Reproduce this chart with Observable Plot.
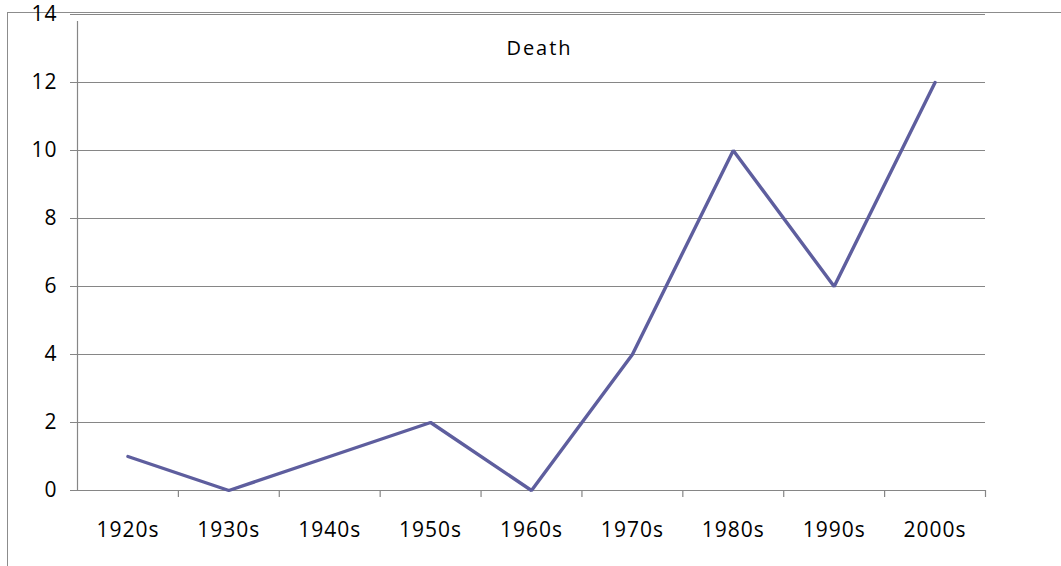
<!DOCTYPE html>
<html>
<head>
<meta charset="utf-8">
<script src="https://cdn.jsdelivr.net/npm/d3@7"></script>
<script src="https://cdn.jsdelivr.net/npm/@observablehq/plot@0.6"></script>
<style>
  html, body { margin: 0; padding: 0; background: #fff; }
  #wrap { position: relative; width: 1061px; height: 566px; overflow: hidden; }
  #border { position: absolute; left: 7px; top: 12px; right: 0; bottom: -2px;
            border-left: 1.5px solid #8c8c8c; border-top: 1.5px solid #8c8c8c; }
  #chart { position: absolute; left: 0; top: 0; }
  #chart svg text { letter-spacing: 1px; }
  #chart svg g.title text { letter-spacing: 2px; }
</style>
</head>
<body>
<div id="wrap"><div id="border"></div><div id="chart"></div></div>
<script>
const decades = ["1920s", "1930s", "1940s", "1950s", "1960s", "1970s", "1980s", "1990s", "2000s"];
const deaths = [1, 0, 1, 2, 0, 4, 10, 6, 12];
const yTicks = [0, 2, 4, 6, 8, 10, 12, 14];
const title = "Death";

const data = decades.map((d, i) => ({decade: d, deaths: deaths[i]}));

const W = 1061, H = 566;
const mL = 77, mR = 76, mT = 14, mB = 76;
const step = (W - mL - mR) / decades.length;
const grid = "#868686";
const font = "'Open Sans', sans-serif";

const chart = Plot.plot({
  width: W,
  height: H,
  marginLeft: mL,
  marginRight: mR,
  marginTop: mT,
  marginBottom: mB,
  style: {background: "transparent", fontFamily: font, fontSize: "21px", color: "#000", overflow: "visible"},
  x: {type: "point", domain: decades, padding: 0.5, round: false, label: null},
  y: {domain: [0, 14], label: null},
  marks: [
    Plot.ruleY(yTicks, {stroke: grid, strokeWidth: 1, insetLeft: -7}),
    Plot.ruleX([decades[0]], {dx: -step / 2, stroke: grid, strokeWidth: 1.2, y1: 0, y2: 14, insetBottom: -7}),
    Plot.ruleX(decades.slice(1), {dx: -step / 2, stroke: grid, strokeWidth: 1.2, y1: 0, y2: 0, insetBottom: -7}),
    Plot.ruleX([decades[decades.length - 1]], {dx: step / 2, stroke: grid, strokeWidth: 1.2, y1: 0, y2: 0, insetBottom: -7}),
    Plot.axisY({ticks: yTicks, tickSize: 0, tickPadding: 20, fontSize: 21, fontFamily: font, fill: "#000"}),
    Plot.axisX({tickSize: 0, tickPadding: 32, fontSize: 21, fontFamily: font, fill: "#000"}),
    Plot.line(data, {x: "decade", y: "deaths", stroke: "#5e5e9e", strokeWidth: 3.4, strokeLinejoin: "miter"}),
    Plot.text([title], {frameAnchor: "top", dy: 26, dx: 8, fontSize: 20, fontFamily: font, fill: "#000", className: "title"})
  ]
});
document.getElementById("chart").appendChild(chart);
</script>
</body>
</html>
